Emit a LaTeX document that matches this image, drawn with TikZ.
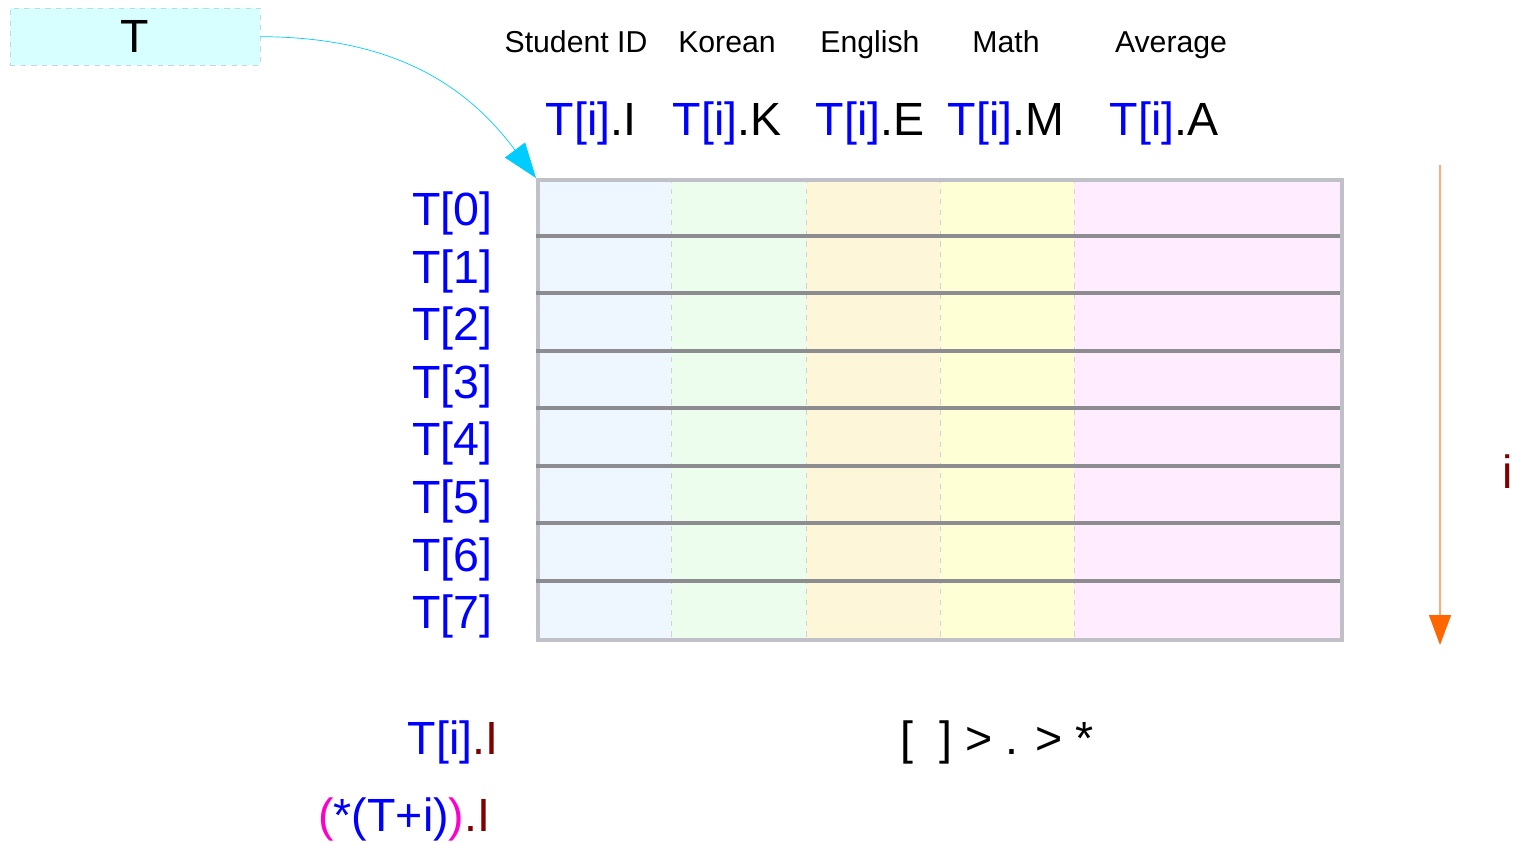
\documentclass[tikz,border=0pt]{standalone}
\usepackage{fontspec}
\setmainfont{Liberation Sans}
\usepackage{xcolor}
\usetikzlibrary{positioning, arrows.meta}

\definecolor{idcol}{RGB}{238,246,255}
\definecolor{kocol}{RGB}{236,253,238}
\definecolor{encol}{RGB}{254,246,217}
\definecolor{macol}{RGB}{255,255,214}
\definecolor{avcol}{RGB}{255,236,254}
\definecolor{ptrcyan}{RGB}{0,204,255}
\definecolor{boxcyan}{RGB}{216,255,255}
\definecolor{idxorange}{RGB}{255,102,0}
\definecolor{idxline}{RGB}{255,170,120}
\definecolor{dred}{RGB}{128,0,0}
\definecolor{mag}{RGB}{255,0,204}

\begin{document}
\begin{tikzpicture}[x=0.02cm,y=-0.02cm,thick,
    big/.style={font=\fontsize{26.5}{30}\selectfont, inner sep=0pt},
    head/.style={font=\fontsize{17.2}{21}\selectfont, inner sep=0pt, anchor=base},
    rowline/.style={draw={rgb,255:red,140;green,140;blue,145}, line width=2.3pt},
    colsep/.style={draw=gray!35, dashed, thin}]
    \useasboundingbox (0,0) rectangle (1513,843);

    % pointer box
    \node[big, fill=boxcyan, draw=boxcyan!70!gray, dashed, very thin,
          minimum width=5cm, minimum height=1.14cm, anchor=north west] (T) at (10,8) {T};

    % columns
    \fill[idcol] (536,178) rectangle (671,638);
    \fill[kocol] (671,178) rectangle (806,638);
    \fill[encol] (806,178) rectangle (940,638);
    \fill[macol] (940,178) rectangle (1074,638);
    \fill[avcol] (1074,178) rectangle (1340,638);
    \draw[colsep] (671,178) -- (671,638);
    \draw[colsep] (806,178) -- (806,638);
    \draw[colsep] (940,178) -- (940,638);
    \draw[colsep] (1074,178) -- (1074,638);

    \node[minimum width=16.08cm, minimum height=9.2cm, inner sep=0pt,
          draw={rgb,255:red,192;green,192;blue,200}, line width=2.3pt,
          anchor=north west] (tbl) at (536,178) {};

    \draw[rowline] (536,236) -- (1340,236);
    \draw[rowline] (536,293) -- (1340,293);
    \draw[rowline] (536,351) -- (1340,351);
    \draw[rowline] (536,408) -- (1340,408);
    \draw[rowline] (536,466) -- (1340,466);
    \draw[rowline] (536,523) -- (1340,523);
    \draw[rowline] (536,581) -- (1340,581);

    % headers
    \node[head] (hid) at (576,52) {Student ID};
    \node[head] (hko) at (727,52) {Korean};
    \node[head] (hen) at (870,52) {English};
    \node[head] (hma) at (1006,52) {Math};
    \node[head] (hav) at (1171,52) {Average};

    \node[big, anchor=base] (fid) at (591,135) {\textcolor{blue}{T[i]}.I};
    \node[big, anchor=base] (fko) at (727,135) {\textcolor{blue}{T[i]}.K};
    \node[big, anchor=base] (fen) at (870,135) {\textcolor{blue}{T[i]}.E};
    \node[big, anchor=base] (fma) at (1006,135) {\textcolor{blue}{T[i]}.M};
    \node[big, anchor=base] (fav) at (1164,135) {\textcolor{blue}{T[i]}.A};

    % row labels
    \node[big, blue, anchor=east] (r0) at (493,213) {T[0]};
    \node[big, blue, anchor=east] (r1) at (493,271) {T[1]};
    \node[big, blue, anchor=east] (r2) at (493,328) {T[2]};
    \node[big, blue, anchor=east] (r3) at (493,386) {T[3]};
    \node[big, blue, anchor=east] (r4) at (493,443) {T[4]};
    \node[big, blue, anchor=east] (r5) at (493,501) {T[5]};
    \node[big, blue, anchor=east] (r6) at (493,559) {T[6]};
    \node[big, blue, anchor=east] (r7) at (493,616) {T[7]};

    % index arrow
    \coordinate (itop) at (1440,165);
    \coordinate (ibot) at (1440,645);
    \draw[idxline, -{Triangle[length=0.6cm, width=0.44cm, fill=idxorange, color=idxorange]}] (itop) -- (ibot);
    \node[big, dred, anchor=west] (ilab) at (1502,472) {i};

    % pointer arrow
    \draw[ptrcyan, thin, -{Triangle[length=0.7cm, width=0.5cm]}]
        (T.east) .. controls (400,37) and (470,90) .. (tbl.north west);

    % bottom
    \node[big, anchor=east] (sub) at (499,742) {\textcolor{blue}{T[i]}\textcolor{dred}{.I}};
    \node[big, anchor=east] (ptr) at (491,819)
        {\textcolor{mag}{(}\textcolor{blue}{*(T+i)}\textcolor{mag}{)}\textcolor{dred}{.I}};
    \node[big, anchor=west] (prec) at (900,742) {[\ \ ] > . > *};
\end{tikzpicture}
\end{document}
